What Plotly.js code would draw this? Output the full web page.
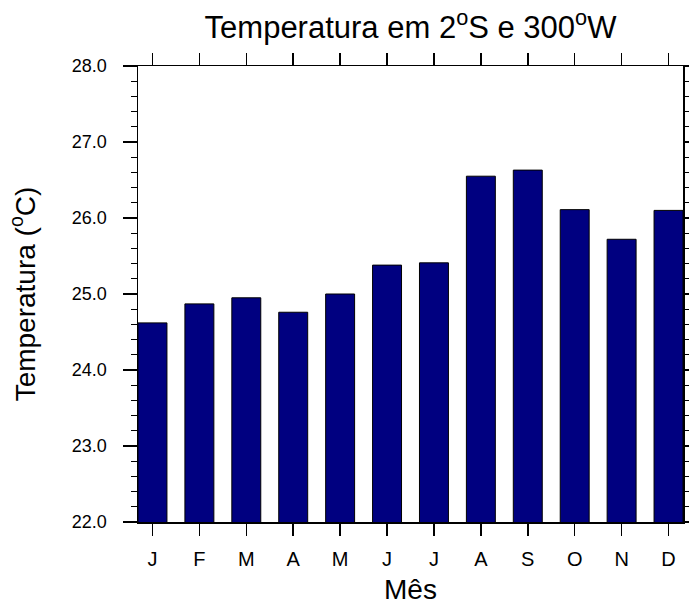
<!DOCTYPE html>
<html>
<head>
<meta charset="utf-8">
<script src="https://cdn.plot.ly/plotly-3.0.1.min.js"></script>
<style>html,body{margin:0;padding:0;background:#fff;}#chart{width:689px;height:605px;}</style>
</head>
<body>
<div id="chart"></div>
<script>
// Data
const months = ['J','F','M','A','M','J','J','A','S','O','N','D'];
const monthIndex = [0,1,2,3,4,5,6,7,8,9,10,11];
const temperature = [24.62, 24.87, 24.95, 24.76, 25.00, 25.38, 25.41, 26.55, 26.63, 26.11, 25.72, 26.10];
const yTickValues = [22, 23, 24, 25, 26, 27, 28];

const FONT = 'Liberation Sans, Arial, Helvetica, sans-serif';
const barWidth = 0.617;

const trace = {
  type: 'bar',
  x: monthIndex,
  y: temperature,
  width: barWidth,
  marker: {color: '#000080', line: {color: '#000000', width: 1}},
  hoverinfo: 'x+y'
};

const layout = {
  width: 689,
  height: 605,
  margin: {l: 138, r: 5.5, t: 65.5, b: 83},
  paper_bgcolor: '#ffffff',
  plot_bgcolor: '#ffffff',
  showlegend: false,
  font: {family: FONT, color: '#000000'},
  title: {
    text: 'Temperatura em 2<sup>o</sup>S e 300<sup>o</sup>W',
    font: {family: FONT, size: 31, color: '#000'},
    x: 0.5, xref: 'paper', xanchor: 'center',
    y: 1 - 27 / 605, yref: 'container', yanchor: 'middle'
  },
  xaxis: {
    range: [-barWidth / 2, 11 + barWidth / 2],
    tickmode: 'array',
    tickvals: monthIndex,
    ticktext: months,
    ticks: 'outside', ticklen: 12, tickwidth: 1.5, tickcolor: '#000',
    showline: true, linecolor: '#000', linewidth: 1.5, mirror: 'ticks',
    showgrid: false, zeroline: false,
    tickfont: {family: FONT, size: 20, color: '#000'},
    ticklabelstandoff: 6,
    title: {text: 'Mês', font: {family: FONT, size: 28, color: '#000'}, standoff: 20}
  },
  yaxis: {
    range: [22, 28],
    tickmode: 'array',
    tickvals: yTickValues,
    tickformat: '.1f',
    ticks: 'outside', ticklen: 14, tickwidth: 1.5, tickcolor: '#000',
    minor: {dtick: 0.2, tick0: 22, ticks: 'outside', ticklen: 6, tickwidth: 1.2, tickcolor: '#000', showgrid: false},
    showline: true, linecolor: '#000', linewidth: 1.5, mirror: 'ticks',
    showgrid: false, zeroline: false,
    tickfont: {family: FONT, size: 18, color: '#000'},
    ticklabelstandoff: 12,
    title: {text: 'Temperatura (<sup>o</sup>C)', font: {family: FONT, size: 28, color: '#000'}, standoff: 28}
  }
};

Plotly.newPlot('chart', [trace], layout, {displayModeBar: false, staticPlot: true});
</script>
</body>
</html>
